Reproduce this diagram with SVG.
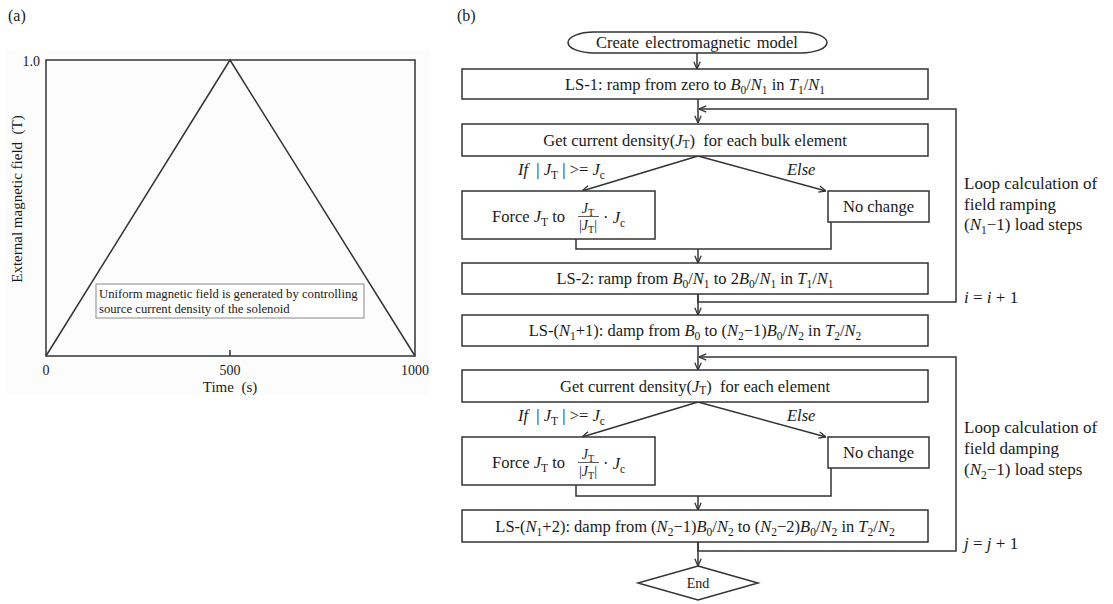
<svg xmlns="http://www.w3.org/2000/svg" width="1113" height="604" viewBox="0 0 1113 604">
<style>
.ln{fill:none;stroke:#333;stroke-width:1.5}
.bx{fill:#fff;stroke:#333;stroke-width:1.5}
.t{font-family:"Liberation Serif","Times New Roman",serif;font-size:16.5px;fill:#1a1a1a}
.ta{font-family:"Liberation Serif","Times New Roman",serif;font-size:14px;fill:#1a1a1a}
.i{font-style:italic}
.s{font-size:11.5px}
</style>
<defs>
<marker id="ah" viewBox="0 0 10 10" refX="10" refY="5" markerWidth="8" markerHeight="8" markerUnits="userSpaceOnUse" orient="auto">
<path d="M1,1 L10,5 L1,9" fill="none" stroke="#333" stroke-width="1.6"/>
</marker>
</defs>
<rect width="1113" height="604" fill="#fff"/>

<!-- Panel (a) -->
<g id="panel-a">
<rect x="5" y="50" width="425" height="345" fill="#fcfcfc"/>
<text class="t" x="8" y="21" style="font-size:16px">(a)</text>
<rect x="46" y="60" width="369" height="296" class="ln"/>
<polyline points="46,356 230,60 415,356" class="ln"/>
<line x1="230" y1="350" x2="230" y2="356" class="ln"/>
<text class="ta" x="40" y="66" text-anchor="end">1.0</text>
<text class="ta" x="46" y="375" text-anchor="middle">0</text>
<text class="ta" x="230" y="375" text-anchor="middle">500</text>
<text class="ta" x="415" y="375" text-anchor="middle">1000</text>
<text class="ta" x="230" y="392" text-anchor="middle" style="font-size:15px" xml:space="preserve">Time  (s)</text>
<text class="ta" transform="translate(22,199) rotate(-90)" text-anchor="middle" style="font-size:15px" xml:space="preserve">External magnetic field  (T)</text>
<rect x="96" y="284" width="268" height="34" fill="#fff" stroke="#888" stroke-width="1"/>
<text class="ta" x="99" y="298" style="font-size:12.7px">Uniform magnetic field is generated by controlling</text>
<text class="ta" x="99" y="313" style="font-size:12.7px">source current density of the solenoid</text>
</g>

<text class="t" x="457" y="21" style="font-size:16px">(b)</text>

<!-- Connectors -->
<g id="connectors">
<line x1="697" y1="53" x2="697" y2="69" class="ln" marker-end="url(#ah)"/>
<line x1="698" y1="99" x2="698" y2="123" class="ln" marker-end="url(#ah)"/>
<polyline points="698,294 698,302 956,302 956,109 699,109" class="ln" marker-end="url(#ah)"/>
<line x1="698" y1="156" x2="582" y2="191" class="ln" marker-end="url(#ah)"/>
<line x1="698" y1="156" x2="826" y2="191" class="ln" marker-end="url(#ah)"/>
<polyline points="576,239 576,249 831,249 831,222" class="ln"/>
<line x1="698" y1="249" x2="698" y2="263" class="ln" marker-end="url(#ah)"/>
<line x1="698" y1="294" x2="698" y2="315" class="ln" marker-end="url(#ah)"/>
<line x1="698" y1="346" x2="698" y2="370" class="ln" marker-end="url(#ah)"/>
<polyline points="698,542 698,551 956,551 956,357 699,357" class="ln" marker-end="url(#ah)"/>
<line x1="698" y1="402" x2="582" y2="437" class="ln" marker-end="url(#ah)"/>
<line x1="698" y1="402" x2="826" y2="437" class="ln" marker-end="url(#ah)"/>
<polyline points="576,485 576,496 831,496 831,468" class="ln"/>
<line x1="698" y1="496" x2="698" y2="510" class="ln" marker-end="url(#ah)"/>
<line x1="698" y1="542" x2="698" y2="566" class="ln" marker-end="url(#ah)"/>
</g>

<!-- Nodes -->
<g id="start">
<rect x="568" y="32" width="259" height="21" rx="26" ry="10.5" class="bx"/>
<text class="t" x="697" y="47.5" text-anchor="middle" word-spacing="2">Create electromagnetic model</text>
</g>

<g id="ls1">
<rect x="462" y="69" width="466" height="30" class="bx"/>
<text class="t" x="695" y="89.5" text-anchor="middle">LS-1: ramp from zero to <tspan class="i">B</tspan><tspan class="s" dy="4">0</tspan><tspan dy="-4">/</tspan><tspan class="i">N</tspan><tspan class="s" dy="4">1</tspan><tspan dy="-4"> in </tspan><tspan class="i">T</tspan><tspan class="s" dy="4">1</tspan><tspan dy="-4">/</tspan><tspan class="i">N</tspan><tspan class="s" dy="4">1</tspan></text>
</g>

<g id="get1">
<rect x="462" y="124" width="466" height="32" class="bx"/>
<text class="t" x="695" y="145.5" text-anchor="middle" xml:space="preserve">Get current density(<tspan class="i">J</tspan><tspan class="s" dy="2">T</tspan><tspan dy="-2">)  for each bulk element</tspan></text>
</g>

<g id="lbl-if1">
<text class="t" x="518" y="175" xml:space="preserve"><tspan class="i">If</tspan>  | <tspan class="i">J</tspan><tspan class="s" dy="4">T</tspan><tspan dy="-4"> | &gt;= </tspan><tspan class="i">J</tspan><tspan class="s" dy="4">c</tspan></text>
<text class="t i" x="787" y="175">Else</text>
</g>

<g id="force1">
<rect x="462" y="191" width="193" height="48" class="bx"/>
<text class="t" x="492" y="221.5">Force <tspan class="i">J</tspan><tspan class="s" dy="4">T</tspan><tspan dy="-4"> to</tspan></text>
<text class="t" x="588" y="213" text-anchor="middle" style="font-size:14px"><tspan class="i">J</tspan><tspan class="s" dy="3" style="font-size:10px">T</tspan></text>
<line x1="578" y1="216.5" x2="599" y2="216.5" stroke="#333" stroke-width="0.8"/>
<text class="t" x="588" y="230" text-anchor="middle" style="font-size:14px">|<tspan class="i">J</tspan><tspan class="s" dy="3" style="font-size:10px">T</tspan><tspan dy="-3">|</tspan></text>
<text class="t" x="603" y="222.5">· <tspan class="i">J</tspan><tspan class="s" dy="4">c</tspan></text>
</g>

<g id="nochange1">
<rect x="828" y="191" width="101" height="31" class="bx"/>
<text class="t" x="878.5" y="212" text-anchor="middle">No change</text>
</g>

<g id="ls2">
<rect x="462" y="263" width="466" height="31" class="bx"/>
<text class="t" x="695" y="284" text-anchor="middle">LS-2: ramp from <tspan class="i">B</tspan><tspan class="s" dy="4">0</tspan><tspan dy="-4">/</tspan><tspan class="i">N</tspan><tspan class="s" dy="4">1</tspan><tspan dy="-4"> to 2</tspan><tspan class="i">B</tspan><tspan class="s" dy="4">0</tspan><tspan dy="-4">/</tspan><tspan class="i">N</tspan><tspan class="s" dy="4">1</tspan><tspan dy="-4"> in </tspan><tspan class="i">T</tspan><tspan class="s" dy="4">1</tspan><tspan dy="-4">/</tspan><tspan class="i">N</tspan><tspan class="s" dy="4">1</tspan></text>
</g>

<g id="loop1-label">
<text class="t" x="964" y="189" style="font-size:17px">Loop calculation of</text>
<text class="t" x="964" y="209.5" style="font-size:17px">field ramping</text>
<text class="t" x="964" y="230" style="font-size:17px">(<tspan class="i">N</tspan><tspan class="s" dy="4">1</tspan><tspan dy="-4">−1) load steps</tspan></text>
<text class="t" x="964" y="303" style="font-size:17px"><tspan class="i">i</tspan> = <tspan class="i">i</tspan> + 1</text>
</g>

<g id="ls-n1p1">
<rect x="462" y="315" width="466" height="31" class="bx"/>
<text class="t" x="695" y="336" text-anchor="middle">LS-(<tspan class="i">N</tspan><tspan class="s" dy="4">1</tspan><tspan dy="-4">+1): damp from </tspan><tspan class="i">B</tspan><tspan class="s" dy="4">0</tspan><tspan dy="-4"> to (</tspan><tspan class="i">N</tspan><tspan class="s" dy="4">2</tspan><tspan dy="-4">−1)</tspan><tspan class="i">B</tspan><tspan class="s" dy="4">0</tspan><tspan dy="-4">/</tspan><tspan class="i">N</tspan><tspan class="s" dy="4">2</tspan><tspan dy="-4"> in </tspan><tspan class="i">T</tspan><tspan class="s" dy="4">2</tspan><tspan dy="-4">/</tspan><tspan class="i">N</tspan><tspan class="s" dy="4">2</tspan></text>
</g>

<g id="get2">
<rect x="462" y="370" width="466" height="32" class="bx"/>
<text class="t" x="695" y="391.5" text-anchor="middle" xml:space="preserve">Get current density(<tspan class="i">J</tspan><tspan class="s" dy="2">T</tspan><tspan dy="-2">)  for each element</tspan></text>
</g>

<g id="lbl-if2">
<text class="t" x="518" y="421" xml:space="preserve"><tspan class="i">If</tspan>  | <tspan class="i">J</tspan><tspan class="s" dy="4">T</tspan><tspan dy="-4"> | &gt;= </tspan><tspan class="i">J</tspan><tspan class="s" dy="4">c</tspan></text>
<text class="t i" x="787" y="421">Else</text>
</g>

<g id="force2">
<rect x="462" y="437" width="193" height="48" class="bx"/>
<text class="t" x="492" y="467.5">Force <tspan class="i">J</tspan><tspan class="s" dy="4">T</tspan><tspan dy="-4"> to</tspan></text>
<text class="t" x="588" y="459" text-anchor="middle" style="font-size:14px"><tspan class="i">J</tspan><tspan class="s" dy="3" style="font-size:10px">T</tspan></text>
<line x1="578" y1="462.5" x2="599" y2="462.5" stroke="#333" stroke-width="0.8"/>
<text class="t" x="588" y="476" text-anchor="middle" style="font-size:14px">|<tspan class="i">J</tspan><tspan class="s" dy="3" style="font-size:10px">T</tspan><tspan dy="-3">|</tspan></text>
<text class="t" x="603" y="468.5">· <tspan class="i">J</tspan><tspan class="s" dy="4">c</tspan></text>
</g>

<g id="nochange2">
<rect x="828" y="437" width="101" height="31" class="bx"/>
<text class="t" x="878.5" y="458" text-anchor="middle">No change</text>
</g>

<g id="ls-n1p2">
<rect x="462" y="510" width="466" height="32" class="bx"/>
<text class="t" x="695" y="531.5" text-anchor="middle">LS-(<tspan class="i">N</tspan><tspan class="s" dy="4">1</tspan><tspan dy="-4">+2): damp from (</tspan><tspan class="i">N</tspan><tspan class="s" dy="4">2</tspan><tspan dy="-4">−1)</tspan><tspan class="i">B</tspan><tspan class="s" dy="4">0</tspan><tspan dy="-4">/</tspan><tspan class="i">N</tspan><tspan class="s" dy="4">2</tspan><tspan dy="-4"> to (</tspan><tspan class="i">N</tspan><tspan class="s" dy="4">2</tspan><tspan dy="-4">−2)</tspan><tspan class="i">B</tspan><tspan class="s" dy="4">0</tspan><tspan dy="-4">/</tspan><tspan class="i">N</tspan><tspan class="s" dy="4">2</tspan><tspan dy="-4"> in </tspan><tspan class="i">T</tspan><tspan class="s" dy="4">2</tspan><tspan dy="-4">/</tspan><tspan class="i">N</tspan><tspan class="s" dy="4">2</tspan></text>
</g>

<g id="loop2-label">
<text class="t" x="964" y="433" style="font-size:17px">Loop calculation of</text>
<text class="t" x="964" y="453.5" style="font-size:17px">field damping</text>
<text class="t" x="964" y="475" style="font-size:17px">(<tspan class="i">N</tspan><tspan class="s" dy="4">2</tspan><tspan dy="-4">−1) load steps</tspan></text>
<text class="t" x="964" y="549" style="font-size:17px"><tspan class="i">j</tspan> = <tspan class="i">j</tspan> + 1</text>
</g>

<g id="end">
<polygon points="698,566 758,583 698,600 638,583" class="bx"/>
<text class="t" x="698" y="588" text-anchor="middle" style="font-size:14px">End</text>
</g>
</svg>
